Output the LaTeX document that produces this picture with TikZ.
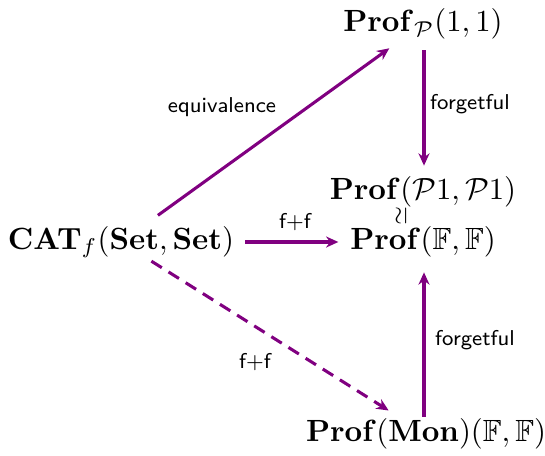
\documentclass[tikz,border=0pt]{standalone}
\usepackage{amsmath,amssymb,graphicx}
\usetikzlibrary{arrows.meta}
\definecolor{arrpurple}{RGB}{128,0,128}
\tikzset{
  obj/.style={inner sep=0pt, outer sep=0pt, anchor=center},
  lbl/.style={font=\scriptsize\sffamily, inner sep=0pt},
  arr/.style={draw=arrpurple, line width=1pt, -{Stealth[length=4pt,width=3.6pt,inset=1.3pt]}},
  dasharr/.style={arr, dash pattern=on 4pt off 2.6pt}
}
\begin{document}
\begin{tikzpicture}[x=0.326pt,y=-0.326pt]
\useasboundingbox (0,0) rectangle (545,455);
\node[obj] (pp) at (423,24) {$\mathbf{Prof}_{\mathcal{P}}(1,1)$};
\node[obj] (p1) at (423,192) {$\mathbf{Prof}(\mathcal{P}1,\mathcal{P}1)$};
\node[obj] (iso) at (401,216) {\scriptsize\rotatebox{90}{$\simeq$}};
\node[obj] (ff) at (423,242) {$\mathbf{Prof}(\mathbb{F},\mathbb{F})$};
\node[obj] (cat) at (121,242) {$\mathbf{CAT}_f(\mathbf{Set},\mathbf{Set})$};
\node[obj] (mon) at (426,434) {$\mathbf{Prof}(\mathbf{Mon})(\mathbb{F},\mathbb{F})$};

\draw[arr, shorten <=6pt, shorten >=5pt] (cat) -- (pp);
\draw[arr, shorten <=3.6pt, shorten >=3.6pt] (pp.south -| 424,0) -- (p1.north -| 424,0);
\draw[arr, shorten <=3.6pt, shorten >=3.9pt] (cat.east) -- (ff.west);
\draw[arr, shorten <=0.6pt, shorten >=4.9pt] (mon.north -| 424,0) -- (ff.south -| 424,0);
\draw[dasharr, shorten <=2pt, shorten >=5pt] (cat) -- (mon);

\node[lbl] (l1) at (222,107) {equivalence};
\node[lbl] (l2) at (470,104) {forgetful};
\node[lbl] (l3) at (295,222) {f+f};
\node[lbl] (l4) at (255,362) {f+f};
\node[lbl] (l5) at (475,340) {forgetful};
\end{tikzpicture}
\end{document}
